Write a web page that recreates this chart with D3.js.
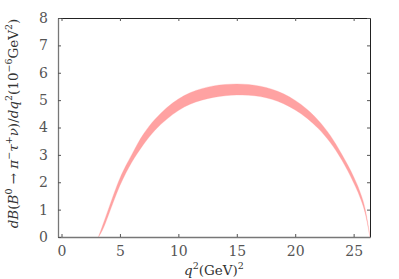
<!DOCTYPE html>
<meta charset="utf-8">

<style>

body {
  margin: 0;
  background: #fff;
}

.band {
  fill: #ffa2a2;
  stroke: #ffa0a0;
  stroke-width: .3px;
}

.axis text {
  font-size: 14px;
  fill: #555;
}

.axis line {
  stroke: #555;
}

.axis.left path, .axis.bottom path {
  stroke: #777;
  stroke-width: 1.3px;
}

.axis.top path, .axis.right path {
  stroke: #222;
  stroke-width: 1px;
}

.label {
  font-size: 13.5px;
  fill: #333;
}

</style>

<body>

<svg id="chart" width="399" height="279"></svg>

<script src="https://d3js.org/d3.v7.min.js"></script>
<script>

const serif = "DejaVu Serif"

// q^2 grid (GeV^2) and the upper / lower edge of the band (10^-6 GeV^-2)
const q2 = [3.16, 3.5, 4, 4.5, 5, 5.5, 6, 6.5, 7, 7.5, 8, 9, 10, 11, 12, 13, 14, 15,
            16, 17, 18, 19, 20, 21, 22, 23, 24, 25, 25.5, 26, 26.4]
const upper = [0, 0.4, 1.0, 1.6, 2.15, 2.6, 3.0, 3.4, 3.75, 4.05, 4.3, 4.72, 5.04, 5.27, 5.42, 5.52, 5.57, 5.59,
               5.57, 5.51, 5.4, 5.23, 4.99, 4.67, 4.25, 3.71, 3.01, 2.2, 1.7, 1.0, 0]
const lower = [0, 0.25, 0.78, 1.35, 1.88, 2.33, 2.72, 3.06, 3.37, 3.65, 3.9, 4.3, 4.62, 4.85, 5.0, 5.1, 5.16, 5.19,
               5.18, 5.13, 5.03, 4.87, 4.64, 4.34, 3.95, 3.45, 2.8, 1.98, 1.5, 0.85, 0]

const xTicks = [0, 5, 10, 15, 20, 25]
const yTicks = [0, 1, 2, 3, 4, 5, 6, 7, 8]

const margin = {top: 18, right: 29, bottom: 42, left: 58}
const width = 399
const height = 279

const svg = d3.select("#chart")

const x = d3.scaleLinear()
    .domain([-0.3, 26.4])
    .range([margin.left, width - margin.right])

const y = d3.scaleLinear()
    .domain([0, 8])
    .range([height - margin.bottom, margin.top])

const band = q2.map((q, i) => ({q: q, hi: upper[i], lo: lower[i]}))

const area = d3.area()
    .curve(d3.curveMonotoneX)
    .x(d => x(d.q))
    .y0(d => y(d.lo))
    .y1(d => y(d.hi))

svg.append("path")
    .datum(band)
    .attr("class", "band")
    .attr("d", area)

// frame with inward ticks on all four sides
svg.append("g")
    .attr("class", "axis top")
    .attr("transform", `translate(0,${margin.top})`)
    .call(d3.axisTop(x).tickValues(xTicks).tickSize(-3).tickSizeOuter(0).tickFormat(""))

svg.append("g")
    .attr("class", "axis right")
    .attr("transform", `translate(${width - margin.right},0)`)
    .call(d3.axisRight(y).tickValues(yTicks).tickSize(-3).tickSizeOuter(0).tickFormat(""))

svg.append("g")
    .attr("class", "axis bottom")
    .attr("transform", `translate(0,${height - margin.bottom})`)
    .call(d3.axisBottom(x).tickValues(xTicks).tickSize(-3).tickSizeOuter(0).tickPadding(9))

svg.append("g")
    .attr("class", "axis left")
    .attr("transform", `translate(${margin.left},0)`)
    .call(d3.axisLeft(y).tickValues(yTicks).tickSize(-3).tickSizeOuter(0).tickPadding(10))

svg.selectAll(".axis").attr("font-family", serif)
svg.selectAll(".axis text").attr("font-family", serif)

// x label: q^2(GeV)^2
const xl = svg.append("text")
    .attr("class", "label")
    .attr("font-family", serif)
    .attr("x", (margin.left + width - margin.right) / 2)
    .attr("y", 275)
    .attr("text-anchor", "middle")
xl.append("tspan").attr("font-style", "italic").text("q")
xl.append("tspan").attr("font-size", "9.5px").attr("dy", -6).text("2")
xl.append("tspan").attr("dy", 6).text("(GeV)")
xl.append("tspan").attr("font-size", "9.5px").attr("dy", -6).text("2")

// y label: dB(B^0 -> pi^- tau^+ nu)/dq^2(10^-6 GeV^2)
const yl = svg.append("text")
    .attr("class", "label")
    .attr("font-family", serif)
    .attr("transform", `translate(18,${(margin.top + height - margin.bottom) / 2 - 4}) rotate(-90)`)
    .attr("text-anchor", "middle")

const parts = [
  ["dB", "italic", 0], ["(", null, 0], ["B", "italic", 0], ["0", null, -6],
  [" \u2192 ", null, 6], ["\u03c0", "italic", 0], ["\u2212", null, -6], ["\u03c4", "italic", 6],
  ["+", null, -6], ["\u03bd", "italic", 6], [")/", null, 0], ["dq", "italic", 0],
  ["2", null, -6], ["(10", null, 6], ["\u22126", null, -6], ["GeV", null, 6],
  ["2", null, -6], [")", null, 6]
]
parts.forEach(([t, style, dy]) => {
  const s = yl.append("tspan").attr("dy", dy).text(t)
  if (style) s.attr("font-style", style)
  if (dy < 0) s.attr("font-size", "9.5px")
})

</script>
